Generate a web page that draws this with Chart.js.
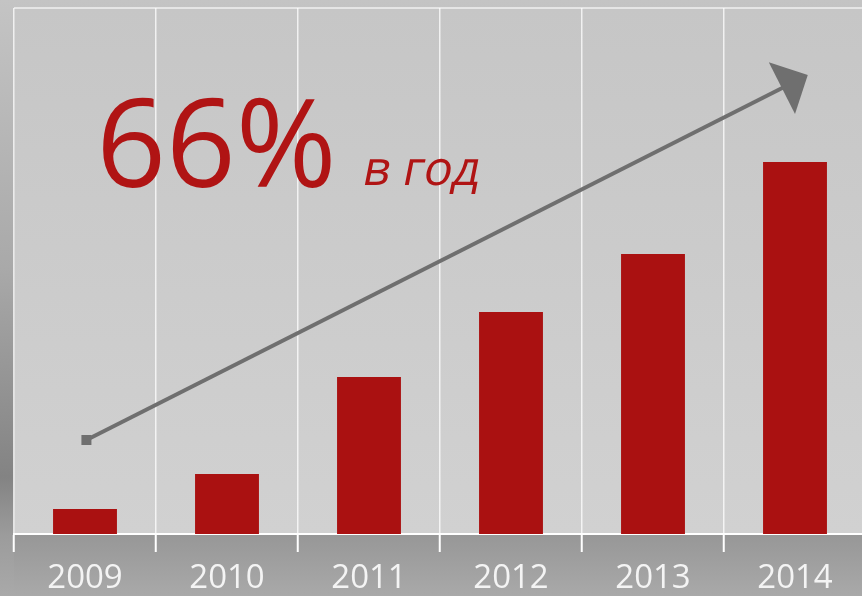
<!DOCTYPE html>
<html>
<head>
<meta charset="utf-8">
<script src="https://cdn.jsdelivr.net/npm/chart.js@4.4.1/dist/chart.umd.min.js"></script>
<style>
html,body{margin:0;padding:0;overflow:hidden;background:#b5b5b5;}
canvas{display:block;}
</style>
</head>
<body>
<canvas id="c" width="866" height="596" style="width:866px;height:596px"></canvas>
<script>
// ---- data ----
const years = ["2009", "2010", "2011", "2012", "2013", "2014"];
const values = [25, 60, 157, 222, 280, 372];
const yMax = 526;
const growthText = "66%";
const growthSub = "в год";
// arrow in data coordinates (category index, value)
const arrowFrom = [0.01, 94];
const arrowTo = [5.09, 459];

const bgPlugin = {
  id: 'bg',
  beforeDraw(chart) {
    const {ctx, chartArea: a, width, height} = chart;
    ctx.save();
    let g = ctx.createLinearGradient(0, 0, 0, height);
    g.addColorStop(0, '#c4c4c4');
    g.addColorStop(0.45, '#a9a9a9');
    g.addColorStop(0.8, '#838383');
    g.addColorStop(0.9, '#9c9c9c');
    g.addColorStop(1, '#a9a9a9');
    ctx.fillStyle = g;
    ctx.fillRect(0, 0, width, height);
    // bottom band
    g = ctx.createLinearGradient(0, a.bottom, 0, height);
    g.addColorStop(0, '#979797');
    g.addColorStop(1, '#a9a9a9');
    ctx.fillStyle = g;
    ctx.fillRect(a.left, a.bottom, width - a.left, height - a.bottom);
    // plot area
    g = ctx.createLinearGradient(0, a.top, 0, a.bottom);
    g.addColorStop(0, '#c6c6c6');
    g.addColorStop(1, '#d1d1d1');
    ctx.fillStyle = g;
    ctx.fillRect(a.left, a.top, a.right - a.left, a.bottom - a.top);
    // top border
    ctx.strokeStyle = 'rgba(255,255,255,0.75)';
    ctx.lineWidth = 1.5;
    ctx.beginPath();
    ctx.moveTo(a.left, a.top);
    ctx.lineTo(a.right, a.top);
    ctx.stroke();
    ctx.restore();
  },
  afterDatasetsDraw(chart) {
    const {ctx, scales: {x, y}} = chart;
    ctx.save();
    const x0 = x.getPixelForValue(arrowFrom[0]), y0 = y.getPixelForValue(arrowFrom[1]);
    const x1 = x.getPixelForValue(arrowTo[0]), y1 = y.getPixelForValue(arrowTo[1]);
    const dx = x1 - x0, dy = y1 - y0, L = Math.hypot(dx, dy);
    const ux = dx / L, uy = dy / L;
    const headLen = 29, headHalf = 29;
    const bx = x1 - ux * headLen, by = y1 - uy * headLen;
    ctx.strokeStyle = '#6f6f6f';
    ctx.fillStyle = '#6f6f6f';
    ctx.lineWidth = 4;
    ctx.beginPath();
    ctx.moveTo(x0, y0);
    ctx.lineTo(bx + ux * 2, by + uy * 2);
    ctx.stroke();
    ctx.fillRect(x0 - 5, y0 - 5, 10, 10);
    ctx.beginPath();
    ctx.moveTo(x1, y1);
    ctx.lineTo(bx - uy * headHalf, by + ux * headHalf);
    ctx.lineTo(bx + uy * headHalf, by - ux * headHalf);
    ctx.closePath();
    ctx.fill();
    // texts
    ctx.fillStyle = '#b01414';
    ctx.textBaseline = 'alphabetic';
    ctx.textAlign = 'left';
    ctx.font = '400 122px "Open Sans"';
    const tx = x.getPixelForValue(0.08), ty = y.getPixelForValue(347);
    ctx.fillText(growthText, tx, ty);
    const w = ctx.measureText(growthText).width;
    // oblique (slanted upright forms)
    const sx = tx + w + 24, sy = ty - 2;
    ctx.translate(sx, sy);
    ctx.transform(1, 0, -0.2, 1, 0, 0);
    ctx.font = '400 48px "Open Sans"';
    ctx.fillText(growthSub, 0, 0);
    ctx.restore();
  }
};

new Chart(document.getElementById('c'), {
  type: 'bar',
  data: {
    labels: years,
    datasets: [{
      data: values,
      backgroundColor: '#aa1111',
      borderWidth: 0,
      categoryPercentage: 1,
      barPercentage: 0.45
    }]
  },
  options: {
    responsive: false,
    animation: false,
    devicePixelRatio: 1,
    layout: {padding: {left: 14, top: 8, right: 0, bottom: 0}},
    plugins: {legend: {display: false}, tooltip: {enabled: false}},
    scales: {
      y: {display: false, min: 0, max: yMax},
      x: {
        offset: true,
        grid: {
          offset: true,
          color: 'rgba(255,255,255,0.75)',
          lineWidth: 1.5,
          drawTicks: true,
          tickLength: 18,
          tickColor: '#ffffff',
          tickWidth: 2
        },
        border: {display: true, color: '#ffffff', width: 2},
        ticks: {
          color: '#f4f4f4',
          font: {family: '"Open Sans"', size: 33},
          padding: 7,
          maxRotation: 0
        },
        afterFit(scale) { scale.height = 62; }
      }
    }
  },
  plugins: [bgPlugin]
});
</script>
</body>
</html>
